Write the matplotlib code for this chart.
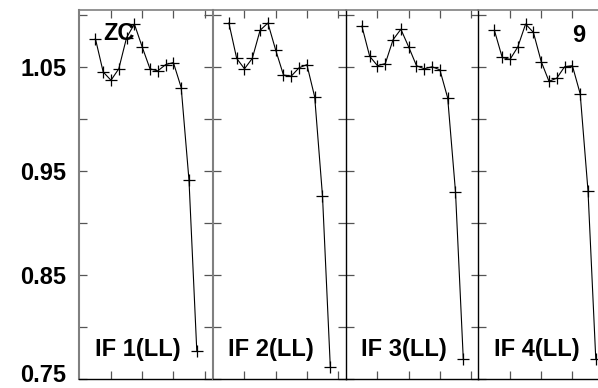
import matplotlib
matplotlib.use("Agg")
import matplotlib.pyplot as plt

# channels plotted in every IF panel
channels = [2, 3, 4, 5, 6, 7, 8, 9, 10, 11, 12, 13, 14, 15]

if1 = [1.077, 1.045, 1.037, 1.048, 1.078, 1.091, 1.069, 1.048, 1.046, 1.052, 1.054, 1.030, 0.941, 0.777]
if2 = [1.092, 1.058, 1.048, 1.058, 1.085, 1.092, 1.066, 1.042, 1.041, 1.049, 1.052, 1.021, 0.926, 0.762]
if3 = [1.089, 1.060, 1.051, 1.053, 1.076, 1.086, 1.069, 1.051, 1.048, 1.050, 1.047, 1.020, 0.930, 0.769]
if4 = [1.085, 1.059, 1.057, 1.069, 1.091, 1.083, 1.055, 1.036, 1.039, 1.050, 1.051, 1.024, 0.931, 0.769]

panels = [if1, if2, if3, if4]
panel_names = ["IF 1(LL)", "IF 2(LL)", "IF 3(LL)", "IF 4(LL)"]

y_ticks = [0.75, 0.80, 0.85, 0.90, 0.95, 1.00, 1.05, 1.10]
# the 0.75 label is drawn separately, lifted a bit so it stays in the picture
y_labels = ["", "", "0.85", "", "0.95", "", "1.05", ""]
x_ticks = [4, 8, 12, 16]

plt.rcParams['font.family'] = ['Liberation Sans', 'DejaVu Sans']
plt.rcParams['font.weight'] = 'bold'

W, H = 598, 388
fig = plt.figure(figsize=(W / 100, H / 100), dpi=100)

left_px = [79, 212.5, 345.5, 478]
pw = 133
bottom = 9 / H
height = 369 / H

for i, (vals, name) in enumerate(zip(panels, panel_names)):
    ax = fig.add_axes([left_px[i] / W, bottom, pw / W, height])
    ax.plot(channels, vals, color="black", linewidth=0.8,
            marker="+", markersize=8, markeredgewidth=0.9)
    ax.set_xlim(-0.1, 16.95)
    ax.set_ylim(0.75, 1.1045)
    ax.set_xticks(x_ticks)
    ax.set_xticklabels([])
    ax.set_yticks(y_ticks)
    if i == 0:
        ax.set_yticklabels(y_labels, fontsize=17, fontweight="bold")
        ax.annotate("0.75", xy=(0, y_ticks[0]), xycoords=ax.get_yaxis_transform(),
                    xytext=(-9.5, -2), textcoords="offset points",
                    fontsize=17, fontweight="bold", ha="right", va="baseline",
                    annotation_clip=False)
    else:
        ax.set_yticklabels([])
    ax.tick_params(direction="in", length=6, width=0.9, color="#555555",
                   top=True, right=True, bottom=True, left=True, pad=9)

    # spines: gray top, black bottom, one divider line between panels
    ax.spines["top"].set_color("#808080")
    ax.spines["top"].set_linewidth(1.2)
    ax.spines["bottom"].set_color("black")
    ax.spines["bottom"].set_linewidth(1.0)
    if i <= 1:
        ax.spines["left"].set_color("#808080")
        ax.spines["left"].set_linewidth(1.5)
    else:
        ax.spines["left"].set_color("black")
        ax.spines["left"].set_linewidth(1.0)
    ax.spines["right"].set_visible(False)
    ax.patch.set_alpha(0)

    ax.text(0.12, 0.079, name, transform=ax.transAxes, fontsize=17,
            fontweight="bold", ha="left", va="center")
    if i == 0:
        ax.text(0.18, 0.936, "ZC", transform=ax.transAxes, fontsize=17,
                fontweight="bold", ha="left", va="center")
    if i == 3:
        ax.text(0.705, 0.932, "9", transform=ax.transAxes, fontsize=17,
                fontweight="bold", ha="left", va="center")

fig.savefig("out.png", dpi=100)
